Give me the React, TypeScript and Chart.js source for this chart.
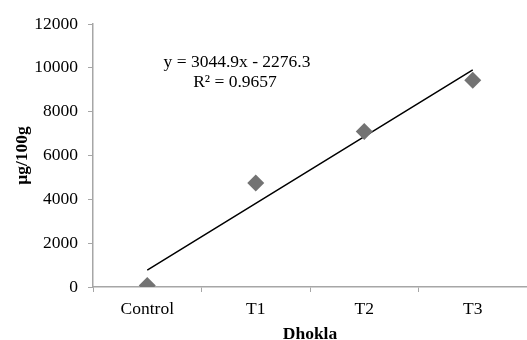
import React, { useEffect, useRef } from "react";
import { Chart, registerables } from "chart.js";

Chart.register(...registerables);

const categories = ["Control", "T1", "T2", "T3"];
const measuredValues = [65, 4750, 7100, 9430];
const trendValues = [768.6, 3813.5, 6858.4, 9903.3];
const equationLines = ["y = 3044.9x - 2276.3", "R² = 0.9657"];
const yTicks = [0, 2000, 4000, 6000, 8000, 10000, 12000];
const yTitle = "µg/100g";
const xTitle = "Dhokla";

const FONT = "'Liberation Serif', 'Times New Roman', serif";
const AXIS = "#a6a6a6";

export default function App() {
  const ref = useRef<HTMLCanvasElement | null>(null);
  useEffect(() => {
    document.body.style.margin = "0";
    const canvas = ref.current!;
    const eqPlugin = {
      id: "eq",
      afterDatasetsDraw(chart: any) {
        const { ctx, chartArea } = chart;
        ctx.save();
        ctx.fillStyle = "#000";
        ctx.font = `17.5px ${FONT}`;
        ctx.textAlign = "center";
        ctx.textBaseline = "middle";
        const cx = chartArea.left + 144;
        ctx.fillText(equationLines[0], cx, 62);
        ctx.fillText(equationLines[1], cx - 2, 82);
        ctx.restore();
      },
    };
    const chart = new Chart(canvas, {
      type: "line",
      data: {
        labels: categories,
        datasets: [
          {
            data: trendValues,
            borderColor: "#000",
            borderWidth: 1.5,
            pointRadius: 0,
            fill: false,
            order: 2,
          },
          {
            data: measuredValues,
            showLine: false,
            pointStyle: "rectRot",
            pointRadius: 8.5,
            pointBackgroundColor: "#737373",
            pointBorderWidth: 0,
            order: 1,
          },
        ],
      },
      options: {
        animation: false,
        responsive: false,
        devicePixelRatio: 1,
        layout: { autoPadding: false, padding: { top: 24, left: 12, right: 0, bottom: 0 } },
        plugins: { legend: { display: false }, tooltip: { enabled: false } },
        scales: {
          x: {
            type: "category",
            offset: true,
            grid: {
              offset: true,
              drawOnChartArea: false,
              drawTicks: true,
              tickLength: 5,
              color: AXIS,
            },
            border: { color: AXIS, width: 1.5 },
            ticks: { color: "#000", font: { family: FONT, size: 17.5 }, padding: 7, maxRotation: 0 },
            title: {
              display: true,
              text: xTitle,
              color: "#000",
              font: { family: FONT, size: 17.5, weight: "bold" },
              padding: { top: 0, bottom: -5 },
            },
            afterFit(scale: any) {
              scale.height = 53;
              scale.paddingRight = 0;
              scale.paddingLeft = 0;
            },
          },
          y: {
            min: 0,
            max: 12000,
            afterBuildTicks(scale: any) {
              scale.ticks = yTicks.map((v) => ({ value: v }));
            },
            grid: { drawOnChartArea: false, tickLength: 5, color: AXIS },
            border: { color: AXIS, width: 1.5 },
            ticks: {
              color: "#000",
              font: { family: FONT, size: 17.5 },
              padding: 10,
              callback: (v: any) => String(v),
            },
            title: {
              display: true,
              text: yTitle,
              color: "#000",
              font: { family: FONT, size: 17.5, weight: "bold" },
              padding: 0,
            },
            afterFit(scale: any) {
              scale.width = 81;
            },
          },
        },
      },
      plugins: [eqPlugin],
    } as any);
    return () => chart.destroy();
  }, []);
  return <canvas ref={ref} width={527} height={340} style={{ display: "block" }} />;
}
